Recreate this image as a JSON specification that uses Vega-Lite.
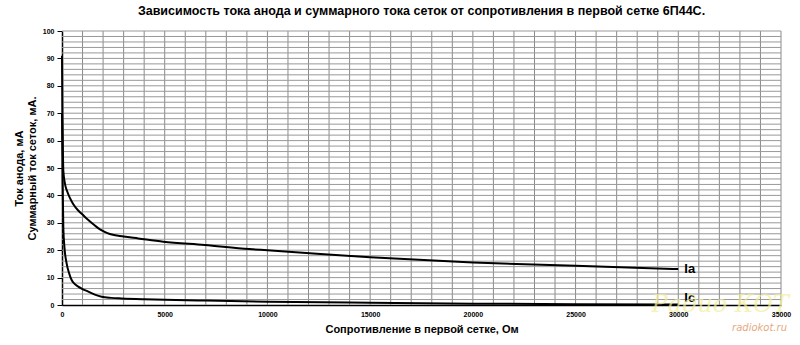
{
  "$schema": "https://vega.github.io/schema/vega-lite/v6.json",
  "width": 719,
  "height": 274,
  "autosize": "none",
  "padding": {"left": 62, "top": 31, "right": 19, "bottom": 40},
  "background": "white",
  "title": {
    "text": "Зависимость  тока анода и суммарного тока сеток от сопротивления  в первой сетке 6П44С.",
    "font": "Liberation Sans",
    "fontSize": 12.5,
    "fontWeight": "bold",
    "color": "black",
    "anchor": "middle",
    "offset": 10
  },
  "config": {
    "view": {"stroke": null},
    "axis": {
      "labelFont": "Liberation Sans",
      "labelFontSize": 7,
      "labelFontWeight": "bold",
      "labelColor": "black",
      "titleFont": "Liberation Sans",
      "titleFontSize": 11,
      "titleFontWeight": "bold",
      "titleColor": "black",
      "domainColor": "black",
      "tickColor": "black",
      "grid": false,
      "labelOverlap": false,
      "labelBound": false
    }
  },
  "datasets": {
    "gridx": [
      {"r": 1000}, {"r": 2000}, {"r": 3000}, {"r": 4000}, {"r": 5000}, {"r": 6000}, {"r": 7000}, {"r": 8000}, {"r": 9000}, {"r": 10000},
      {"r": 11000}, {"r": 12000}, {"r": 13000}, {"r": 14000}, {"r": 15000}, {"r": 16000}, {"r": 17000}, {"r": 18000}, {"r": 19000}, {"r": 20000},
      {"r": 21000}, {"r": 22000}, {"r": 23000}, {"r": 24000}, {"r": 25000}, {"r": 26000}, {"r": 27000}, {"r": 28000}, {"r": 29000}, {"r": 30000},
      {"r": 31000}, {"r": 32000}, {"r": 33000}, {"r": 34000}, {"r": 35000}
    ],
    "gridy": [
      {"i": 2}, {"i": 4}, {"i": 6}, {"i": 8}, {"i": 10}, {"i": 12}, {"i": 14}, {"i": 16}, {"i": 18}, {"i": 20},
      {"i": 22}, {"i": 24}, {"i": 26}, {"i": 28}, {"i": 30}, {"i": 32}, {"i": 34}, {"i": 36}, {"i": 38}, {"i": 40},
      {"i": 42}, {"i": 44}, {"i": 46}, {"i": 48}, {"i": 50}, {"i": 52}, {"i": 54}, {"i": 56}, {"i": 58}, {"i": 60},
      {"i": 62}, {"i": 64}, {"i": 66}, {"i": 68}, {"i": 70}, {"i": 72}, {"i": 74}, {"i": 76}, {"i": 78}, {"i": 80},
      {"i": 82}, {"i": 84}, {"i": 86}, {"i": 88}, {"i": 90}, {"i": 92}, {"i": 94}, {"i": 96}, {"i": 98}, {"i": 100}
    ],
    "curves": [
      {"series": "Ia", "r": 0, "i": 91},
      {"series": "Ia", "r": 20, "i": 70},
      {"series": "Ia", "r": 40, "i": 58},
      {"series": "Ia", "r": 65, "i": 49},
      {"series": "Ia", "r": 150, "i": 44},
      {"series": "Ia", "r": 250, "i": 41.5},
      {"series": "Ia", "r": 390, "i": 39},
      {"series": "Ia", "r": 550, "i": 36.8},
      {"series": "Ia", "r": 790, "i": 34.5},
      {"series": "Ia", "r": 1000, "i": 33},
      {"series": "Ia", "r": 1280, "i": 31},
      {"series": "Ia", "r": 1600, "i": 29},
      {"series": "Ia", "r": 1850, "i": 27.6},
      {"series": "Ia", "r": 2100, "i": 26.6},
      {"series": "Ia", "r": 2330, "i": 25.9},
      {"series": "Ia", "r": 3000, "i": 25},
      {"series": "Ia", "r": 3710, "i": 24.3},
      {"series": "Ia", "r": 4930, "i": 23.1},
      {"series": "Ia", "r": 6950, "i": 21.9},
      {"series": "Ia", "r": 9120, "i": 20.4},
      {"series": "Ia", "r": 10000, "i": 20},
      {"series": "Ia", "r": 15000, "i": 17.4},
      {"series": "Ia", "r": 20000, "i": 15.5},
      {"series": "Ia", "r": 25000, "i": 14.3},
      {"series": "Ia", "r": 30000, "i": 13.1},
      {"series": "Ic", "r": 0, "i": 70},
      {"series": "Ic", "r": 30, "i": 45},
      {"series": "Ic", "r": 65, "i": 28},
      {"series": "Ic", "r": 120, "i": 21},
      {"series": "Ic", "r": 230, "i": 15},
      {"series": "Ic", "r": 350, "i": 11.5},
      {"series": "Ic", "r": 470, "i": 9.1},
      {"series": "Ic", "r": 600, "i": 7.8},
      {"series": "Ic", "r": 790, "i": 6.7},
      {"series": "Ic", "r": 1000, "i": 5.8},
      {"series": "Ic", "r": 1280, "i": 4.9},
      {"series": "Ic", "r": 1600, "i": 3.8},
      {"series": "Ic", "r": 1930, "i": 3.0},
      {"series": "Ic", "r": 2400, "i": 2.6},
      {"series": "Ic", "r": 2900, "i": 2.4},
      {"series": "Ic", "r": 4000, "i": 2.1},
      {"series": "Ic", "r": 5000, "i": 1.9},
      {"series": "Ic", "r": 7000, "i": 1.6},
      {"series": "Ic", "r": 10000, "i": 1.2},
      {"series": "Ic", "r": 15000, "i": 0.8},
      {"series": "Ic", "r": 20000, "i": 0.5},
      {"series": "Ic", "r": 25000, "i": 0.3},
      {"series": "Ic", "r": 30000, "i": 0.2}
    ],
    "labels": [
      {"series": "Ia", "r": 30000, "i": 13.1, "text": "Ia"},
      {"series": "Ic", "r": 30000, "i": 0.2, "text": "Ic"}
    ],
    "marks": [
      {"r": 35000, "i": 0, "text": "radiokot.ru", "kind": "url"},
      {"r": 35000, "i": 0, "text": "Радио КОТ", "kind": "logo"}
    ]
  },
  "layer": [
    {
      "data": {"name": "gridx"},
      "mark": {"type": "rule", "color": "#8a8a8a", "strokeWidth": 1},
      "encoding": {
        "x": {"field": "r", "type": "quantitative",
          "scale": {"domain": [0, 35000], "nice": false, "zero": true},
          "axis": {
            "title": "Сопротивление в первой сетке, Ом",
            "values": [0, 5000, 10000, 15000, 20000, 25000, 30000, 35000],
            "tickCount": 20,
            "format": "d",
            "ticks": false,
            "labelPadding": 5,
            "titlePadding": 6,
            "labelFlush": false,
            "domainWidth": 1.5
          }
        }
      }
    },
    {
      "data": {"name": "gridy"},
      "mark": {"type": "rule", "color": "#999999", "strokeWidth": 1},
      "encoding": {
        "y": {"field": "i", "type": "quantitative",
          "scale": {"domain": [0, 100], "nice": false},
          "axis": {
            "title": ["Ток анода, мА", "Суммарный ток сеток, мА."],
            "values": [0, 10, 20, 30, 40, 50, 60, 70, 80, 90, 100],
            "tickCount": 20,
            "tickSize": 5,
            "labelPadding": 3,
            "titlePadding": 5,
            "titleLineHeight": 13,
            "labelFlush": false,
            "domainWidth": 1.5
          }
        }
      }
    },
    {
      "data": {"name": "curves"},
      "mark": {"type": "line", "color": "black", "strokeWidth": 2, "interpolate": "monotone"},
      "encoding": {
        "x": {"field": "r", "type": "quantitative"},
        "y": {"field": "i", "type": "quantitative"},
        "detail": {"field": "series"}
      }
    },
    {
      "data": {"name": "labels"},
      "transform": [{"filter": "datum.series === 'Ia'"}],
      "mark": {"type": "text", "align": "left", "baseline": "middle", "dx": 6, "dy": 0, "font": "Liberation Sans", "fontSize": 13, "fontWeight": "bold", "color": "black"},
      "encoding": {
        "x": {"field": "r", "type": "quantitative"},
        "y": {"field": "i", "type": "quantitative"},
        "text": {"field": "text"}
      }
    },
    {
      "data": {"name": "labels"},
      "transform": [{"filter": "datum.series === 'Ic'"}],
      "mark": {"type": "text", "align": "left", "baseline": "middle", "dx": 6, "dy": -6, "font": "Liberation Sans", "fontSize": 13, "fontWeight": "bold", "color": "black"},
      "encoding": {
        "x": {"field": "r", "type": "quantitative"},
        "y": {"field": "i", "type": "quantitative"},
        "text": {"field": "text"}
      }
    },
    {
      "data": {"name": "marks"},
      "transform": [{"filter": "datum.kind === 'url'"}],
      "mark": {"type": "text", "align": "right", "baseline": "middle", "dx": 6, "dy": 23, "font": "DejaVu Sans", "fontSize": 10, "fontStyle": "italic", "color": "#e39a6a", "opacity": 0.85},
      "encoding": {
        "x": {"field": "r", "type": "quantitative"},
        "y": {"field": "i", "type": "quantitative"},
        "text": {"field": "text"}
      }
    },
    {
      "data": {"name": "marks"},
      "transform": [{"filter": "datum.kind === 'logo'"}],
      "mark": {"type": "text", "align": "right", "baseline": "middle", "dx": 8, "dy": 0, "font": "DejaVu Serif", "fontSize": 24, "fontStyle": "italic", "color": "#f3ee9a", "opacity": 0.7},
      "encoding": {
        "x": {"field": "r", "type": "quantitative"},
        "y": {"field": "i", "type": "quantitative"},
        "text": {"field": "text"}
      }
    }
  ]
}
